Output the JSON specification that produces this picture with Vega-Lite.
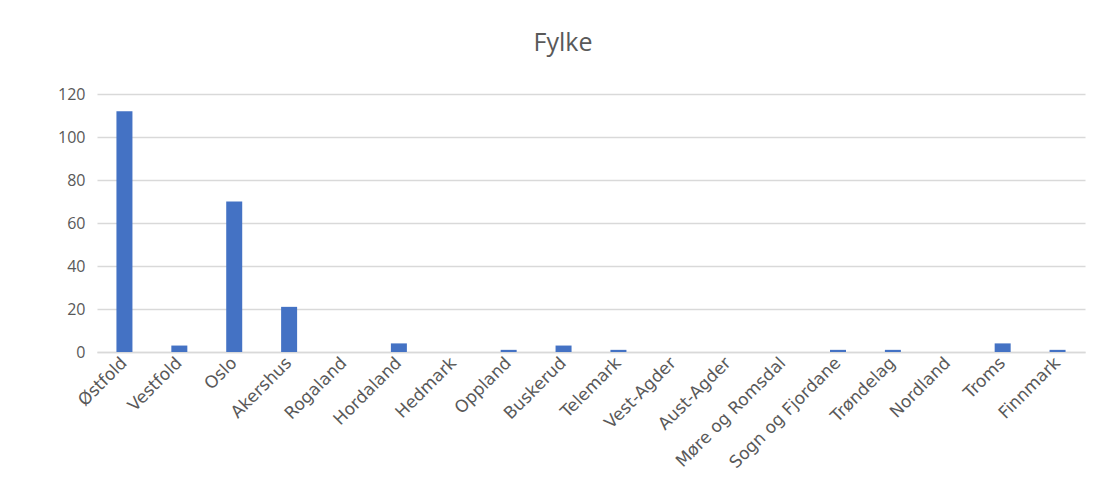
{
  "$schema": "https://vega.github.io/schema/vega-lite/v6.json",
  "width": 988,
  "height": 258,
  "autosize": {"type": "none"},
  "padding": {"left": 97, "top": 94, "right": 19, "bottom": 145},
  "background": "white",
  "title": {
    "text": "Fylke",
    "font": "Open Sans",
    "fontSize": 25,
    "fontWeight": "normal",
    "color": "#595959",
    "anchor": "middle",
    "offset": 30,
    "dx": -28
  },
  "data": {
    "values": [
      {"fylke": "Østfold", "antall": 112},
      {"fylke": "Vestfold", "antall": 3},
      {"fylke": "Oslo", "antall": 70},
      {"fylke": "Akershus", "antall": 21},
      {"fylke": "Rogaland", "antall": 0},
      {"fylke": "Hordaland", "antall": 4},
      {"fylke": "Hedmark", "antall": 0},
      {"fylke": "Oppland", "antall": 1},
      {"fylke": "Buskerud", "antall": 3},
      {"fylke": "Telemark", "antall": 1},
      {"fylke": "Vest-Agder", "antall": 0},
      {"fylke": "Aust-Agder", "antall": 0},
      {"fylke": "Møre og Romsdal", "antall": 0},
      {"fylke": "Sogn og Fjordane", "antall": 1},
      {"fylke": "Trøndelag", "antall": 1},
      {"fylke": "Nordland", "antall": 0},
      {"fylke": "Troms", "antall": 4},
      {"fylke": "Finnmark", "antall": 1}
    ]
  },
  "mark": {"type": "bar", "color": "#4472c4", "width": 16},
  "encoding": {
    "x": {
      "field": "fylke",
      "type": "nominal",
      "sort": null,
      "scale": {"paddingInner": 0, "paddingOuter": 0},
      "axis": {
        "title": null,
        "labelAngle": -45,
        "labelAlign": "right",
        "labelBaseline": "middle",
        "labelFont": "DejaVu Sans",
        "labelFontSize": 17,
        "labelColor": "#595959",
        "labelPadding": 8,
        "labelOverlap": false,
        "ticks": false,
        "domainColor": "#d9d9d9",
        "domainWidth": 1.5,
        "grid": false
      }
    },
    "y": {
      "field": "antall",
      "type": "quantitative",
      "scale": {"domain": [0, 120]},
      "axis": {
        "title": null,
        "values": [0, 20, 40, 60, 80, 100, 120],
        "labelFont": "Open Sans",
        "labelFontSize": 16,
        "labelColor": "#595959",
        "labelPadding": 12,
        "ticks": false,
        "domain": false,
        "gridColor": "#d9d9d9",
        "gridWidth": 1.5
      }
    }
  },
  "config": {"view": {"stroke": null}}
}
